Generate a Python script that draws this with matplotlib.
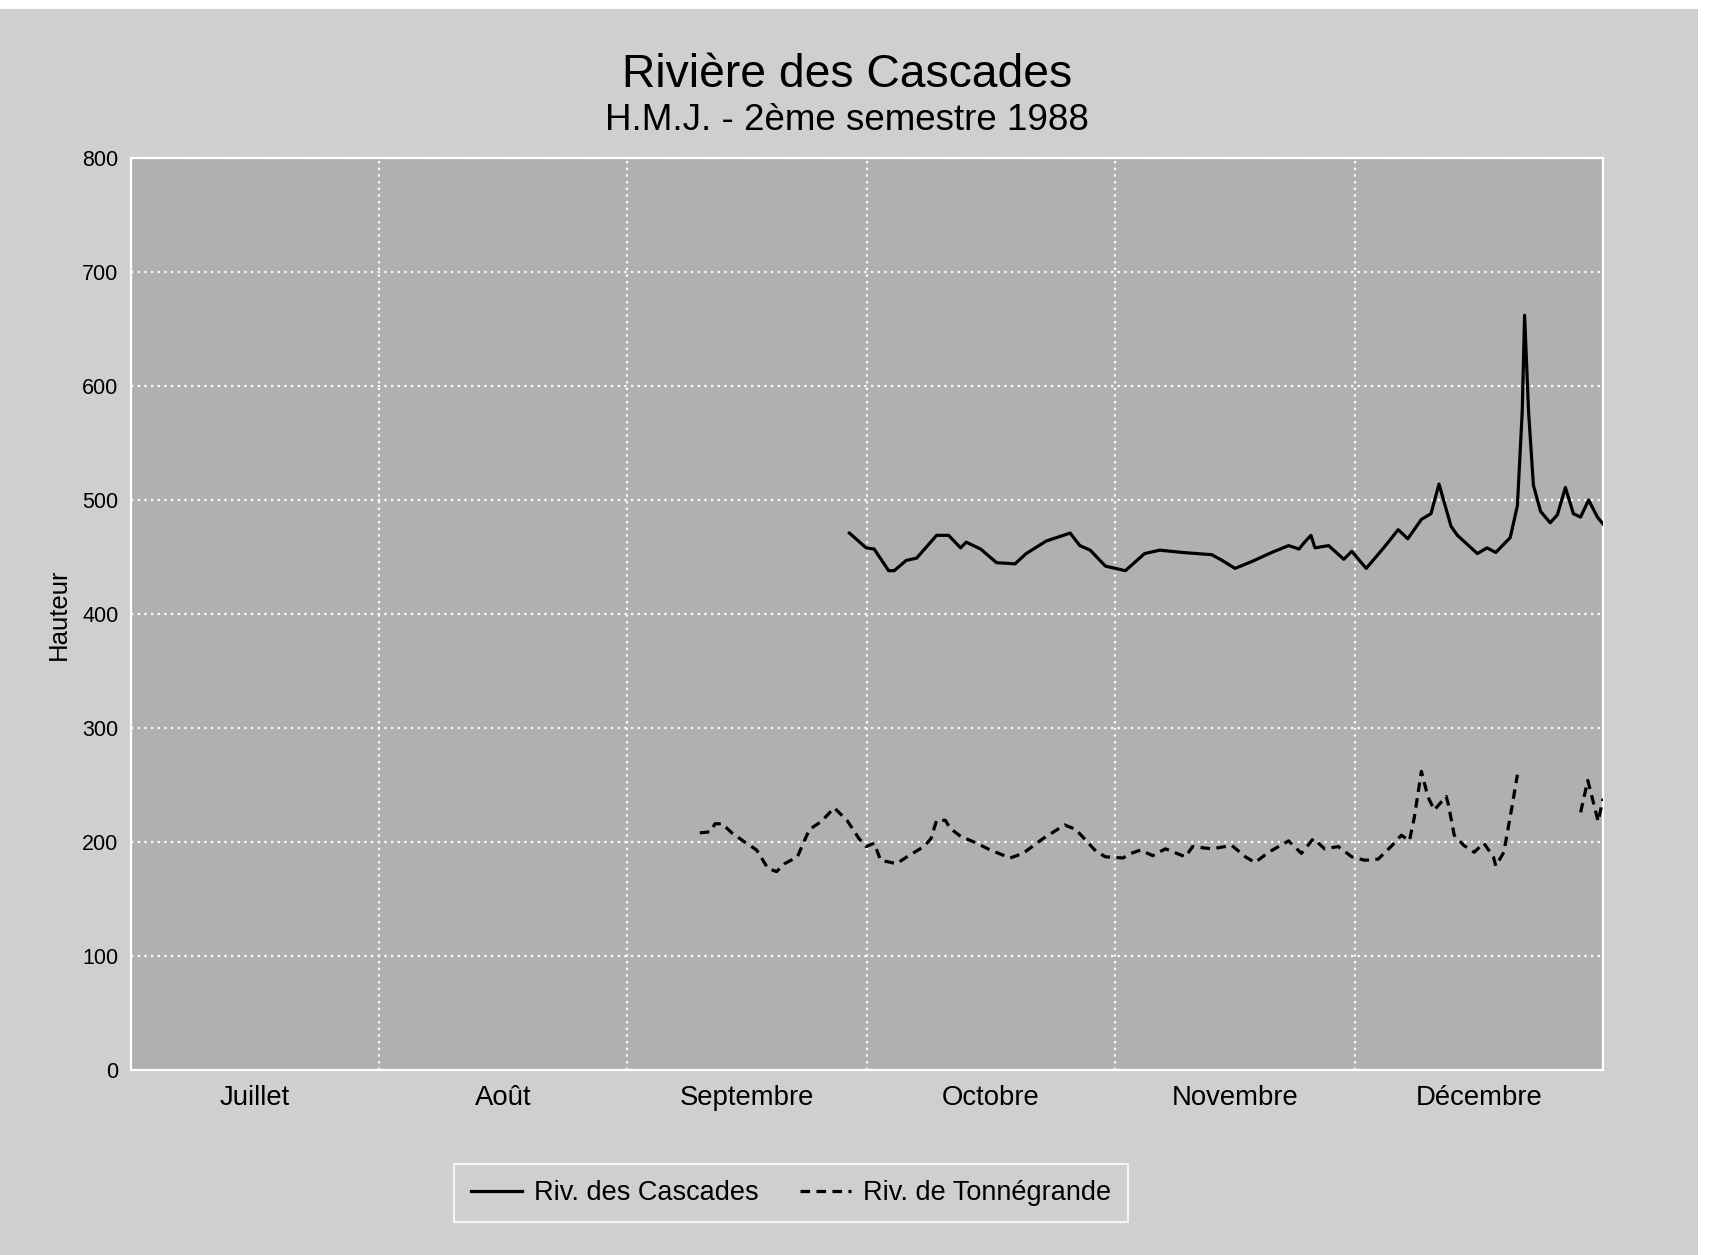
import numpy as np
import matplotlib
matplotlib.use("Agg")
import matplotlib.pyplot as plt
from matplotlib.patches import Rectangle

plt.rcParams['font.family'] = ['Liberation Sans', 'DejaVu Sans']

# Jour compté depuis le 1er juillet 1988 (0 = début juillet)
mois = ["Juillet", "Août", "Septembre", "Octobre", "Novembre", "Décembre"]
debut_mois = [0, 31, 62, 92, 123, 153, 184]

cascades_jour = [89.8, 91.9, 92.9, 94.7, 95.4, 96.9, 98.2, 100.7, 102.2, 103.7,
                 104.4, 106.2, 108.2, 110.5, 111.9, 114.4, 117.4, 118.6, 119.9, 121.8,
                 124.3, 126.7, 128.6, 131.4, 135.1, 136.4, 138.0, 140.1, 142.6, 144.7,
                 146.0, 146.7, 147.5, 148.0, 149.7, 151.6, 152.6, 154.4, 156.7, 158.4,
                 159.6, 161.3, 162.5, 163.5, 165.0, 165.8, 168.3, 169.5, 170.6, 172.4,
                 173.3, 173.9, 174.2, 174.7, 175.3, 176.2, 177.4, 178.3, 179.3, 180.3,
                 181.2, 182.2, 183.3, 184.0]
cascades_hauteur = [471, 458, 457, 438, 438, 447, 449, 469, 469, 458,
                    463, 457, 445, 444, 453, 464, 471, 460, 456, 442,
                    438, 453, 456, 454, 452, 447, 440, 446, 454, 460,
                    457, 463, 469, 458, 460, 448, 455, 440, 459, 474,
                    466, 483, 488, 514, 477, 469, 453, 458, 454, 467,
                    495, 577, 662, 577, 513, 490, 480, 487, 511, 488,
                    485, 500, 485, 479]

tonne_jour = [71.1, 72.4, 73.0, 73.9, 75.1, 76.7, 78.2, 79.6, 80.7, 81.7,
              83.3, 84.8, 86.3, 87.9, 89.5, 91.0, 91.9, 92.9, 93.7, 95.7,
              97.0, 99.1, 100.0, 100.7, 101.8, 102.4, 103.7, 105.7, 107.4, 109.9,
              111.5, 114.0, 116.7, 118.1, 120.6, 121.8, 124.0, 125.0, 126.2, 127.7,
              129.3, 131.8, 132.7, 135.1, 137.6, 139.3, 140.5, 142.2, 144.7, 146.3,
              147.8, 149.2, 150.9, 152.6, 154.2, 155.9, 157.5, 158.8, 159.8, 160.4,
              161.3, 162.1, 162.9, 164.4, 164.7, 165.4, 166.6, 167.9, 169.1, 170.3,
              170.6, 171.6, 172.5, 173.3,
              177.0,
              181.2, 182.1, 183.4, 184.0]
tonne_hauteur = [208, 209, 216, 216, 208, 200, 193, 177, 174, 181,
                 187, 211, 218, 230, 219, 203, 196, 199, 184, 181,
                 187, 196, 203, 219, 219, 212, 205, 199, 193, 186,
                 190, 203, 215, 211, 192, 187, 186, 190, 193, 188,
                 194, 187, 196, 194, 197, 187, 182, 191, 201, 190,
                 203, 194, 196, 187, 184, 185, 196, 206, 201, 221,
                 262, 240, 228, 240, 232, 206, 197, 191, 199, 187,
                 179, 191, 226, 259,
                 np.nan,
                 226, 254, 218, 238]

fond_page = "#cfcfcf"
fond_graphe = "#b0b0b0"

fig = plt.figure(figsize=(17.09, 12.55), dpi=100, facecolor="white")
fig.patches.append(Rectangle((0, 0), 1698 / 1709, 1 - 9 / 1255, transform=fig.transFigure,
                             facecolor=fond_page, edgecolor="none", zorder=-10))

ax = fig.add_axes([131 / 1709, 185 / 1255, 1472 / 1709, 912 / 1255])
ax.set_facecolor(fond_graphe)

ax.plot(cascades_jour, cascades_hauteur, color="black", lw=2.3, solid_joinstyle="round",
        label="Riv. des Cascades", zorder=3)
ax.plot(tonne_jour, tonne_hauteur, color="black", lw=2.3, dashes=(3.0, 2.0),
        label="Riv. de Tonnégrande", zorder=3)

ax.set_xlim(0, 184)
ax.set_ylim(0, 800)
ax.set_yticks(np.arange(0, 801, 100))
centres = [(debut_mois[i] + debut_mois[i + 1]) / 2 for i in range(len(mois))]
ax.set_xticks(centres)
ax.set_xticklabels(mois, fontsize=19.8)
ax.set_xticks(debut_mois[1:-1], minor=True)
ax.tick_params(axis="x", which="both", length=0, pad=11)
ax.tick_params(axis="y", length=0, pad=9, labelsize=15.5)

ax.grid(axis="y", which="major", color="white", linestyle=(0, (1, 2)), lw=1.6, zorder=1)
ax.grid(axis="x", which="minor", color="white", linestyle=(0, (1, 2)), lw=1.6, zorder=1)
for s in ax.spines.values():
    s.set_color("white")
    s.set_linewidth(1.6)

ax.set_ylabel("Hauteur", fontsize=18.5, labelpad=8)

fig.text(847 / 1709, 1 - 75 / 1255, "Rivière des Cascades", fontsize=33.3,
         ha="center", va="center")
fig.text(847 / 1709, 1 - 120 / 1255, "H.M.J. - 2ème semestre 1988", fontsize=26.5,
         ha="center", va="center")

leg = fig.legend(loc="center", bbox_to_anchor=(791 / 1709, 1 - 1193 / 1255), ncol=2,
                 fontsize=19.5, frameon=True, fancybox=False, handlelength=1.9,
                 handletextpad=0.45, columnspacing=1.5, borderpad=0.6)
leg.get_frame().set_facecolor(fond_page)
leg.get_frame().set_edgecolor("white")
leg.get_frame().set_linewidth(1.5)

fig.savefig("out.png", dpi=100, facecolor=fig.get_facecolor())
